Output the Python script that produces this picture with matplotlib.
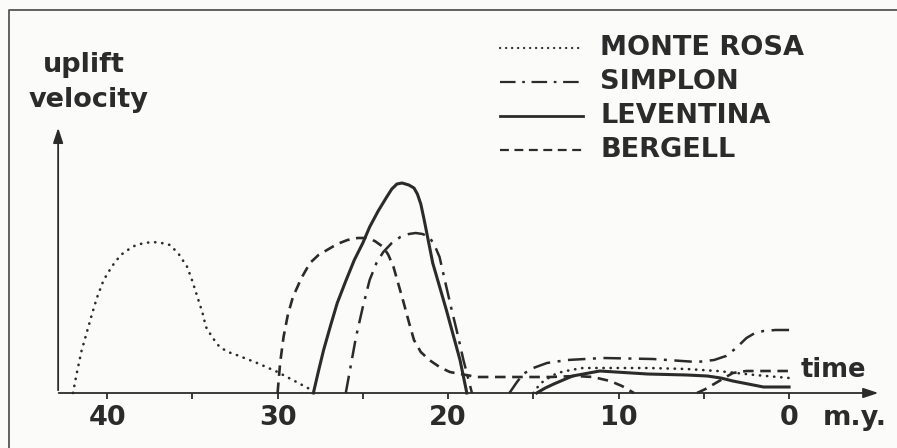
import matplotlib.pyplot as plt

# Uplift velocity curves (time in m.y., height in arbitrary units)
monte_rosa_t = [42.0, 41.8, 41.5, 41.2, 40.9, 40.6, 40.2, 39.7, 39.2, 38.7, 38.3, 37.8, 37.3, 36.8, 36.3, 35.8, 35.3, 35.0, 34.7, 34.4, 34.2, 33.8, 33.4, 32.9, 32.4, 31.2, 30.0, 29.0, 27.9]
monte_rosa_h = [0, 18, 42, 60, 78, 95, 113, 127, 138, 144, 148, 150, 151, 150, 148, 139, 126, 112, 96, 80, 66, 55, 46, 41, 38, 30, 21, 12, 2]
monte_rosa2_t = [15.0, 14.7, 14.4, 13.6, 12.8, 12.1, 10.0, 8.2, 6.0, 4.2, 2.0, 0.0]
monte_rosa2_h = [0, 7, 12, 20, 23, 25, 25, 25, 24, 22, 18, 15]

simplon_t = [26.0, 25.7, 25.4, 25.0, 24.6, 24.2, 23.8, 23.3, 22.8, 22.3, 21.9, 21.5, 21.1, 20.8, 20.5, 20.1, 19.8, 19.5, 19.1, 18.6]
simplon_h = [0, 28, 56, 86, 113, 130, 141, 150, 156, 159, 160, 159, 156, 148, 136, 106, 84, 63, 33, 0]
simplon2_t = [16.4, 16.0, 15.6, 15.0, 14.2, 13.0, 10.9, 8.0, 5.4, 4.4, 3.7, 3.1, 2.5, 2.0, 1.5, 0.8, 0.0]
simplon2_h = [0, 10, 19, 25, 30, 33, 35, 34, 31, 33, 37, 45, 55, 60, 62, 63, 63]

leventina_t = [27.9, 27.6, 27.3, 26.9, 26.5, 26.0, 25.5, 25.0, 24.6, 24.1, 23.6, 23.3, 23.0, 22.7, 22.3, 22.0, 21.8, 21.6, 21.4, 20.9, 20.1, 19.3, 18.9]
leventina_h = [0, 22, 43, 67, 90, 112, 133, 150, 166, 182, 196, 204, 209, 210, 208, 205, 199, 189, 173, 130, 83, 33, 0]
leventina2_t = [14.8, 14.3, 13.8, 12.7, 11.1, 8.3, 6.0, 4.8, 4.0, 3.3, 2.4, 1.5, 0.0]
leventina2_h = [0, 5, 9, 17, 22, 19, 18, 17, 15, 12, 9, 6, 6]

bergell_t = [30.0, 29.85, 29.65, 29.4, 29.1, 28.6, 28.1, 27.6, 27.1, 26.5, 25.9, 25.3, 24.8, 24.3, 23.8, 23.5, 23.2, 22.9, 22.6, 22.3, 22.0, 21.6, 21.1, 20.5, 19.9, 18.3, 16.0, 14.0, 12.5, 11.5, 10.5, 9.8, 9.1]
bergell_h = [0, 30, 56, 78, 96, 115, 130, 138, 143, 149, 153, 155, 155, 152, 146, 138, 126, 108, 90, 71, 53, 41, 33, 26, 21, 16, 16, 16, 17, 16, 12, 7, 0]
bergell2_t = [5.4, 4.9, 4.4, 3.8, 3.3, 2.5, 1.0, 0.0]
bergell2_h = [0, 4, 9, 15, 20, 22, 22, 22]

tick_pos = [40, 35, 30, 25, 20, 15, 10, 5, 0]
tick_labels = ["40", "30", "20", "10", "0"]
label_pos = [40, 30, 20, 10, 0]
legend_names = ["MONTE ROSA", "SIMPLON", "LEVENTINA", "BERGELL"]

INK = "#2b2b2b"
FONT = dict(family="DejaVu Sans", weight="bold", color=INK)

dotted = (0, (0.1, 2.6))
dashdot = (0, (7, 3, 1.2, 3))
dashed = (0, (4, 2.5))

fig = plt.figure(figsize=(8.97, 4.48), dpi=100, facecolor="#fbfbf9")
ax = fig.add_axes([0, 0, 1, 1])
ax.set_facecolor("#fbfbf9")
ax.set_xlim(46.28, -6.33)
ax.set_ylim(-55, 393)
ax.axis("off")

# frame (left and top edges visible in the scan)
ax.plot([45.75, 45.75, -6.4], [-56, 383, 383], color="#555555", lw=1.3, solid_capstyle="butt")

# axes with arrow heads
ax.annotate("", xy=(-5.4, 0), xytext=(43.0, 0),
            arrowprops=dict(arrowstyle="-|>,head_length=0.9,head_width=0.3", color=INK, lw=1.3))
ax.annotate("", xy=(42.87, 268), xytext=(42.87, 0),
            arrowprops=dict(arrowstyle="-|>,head_length=0.9,head_width=0.3", color=INK, lw=1.3))
ax.vlines(tick_pos, -6, 0, color=INK, lw=1.3)
for t, lab in zip(label_pos, tick_labels):
    ax.text(t, -25, lab, ha="center", va="center", fontsize=19.5, **FONT)
ax.text(-2.0, -25, "m.y.", ha="left", va="center", fontsize=19.5, **FONT)
ax.text(-0.65, 23, "time", ha="left", va="center", fontsize=18.5, **FONT)
ax.text(41.35, 328, "uplift", ha="center", va="center", fontsize=19.5, **FONT)
ax.text(41.1, 293, "velocity", ha="center", va="center", fontsize=19.5, **FONT)

# curves
ax.plot(monte_rosa_t, monte_rosa_h, color=INK, lw=1.9, linestyle=dotted, dash_capstyle="round")
ax.plot(monte_rosa2_t, monte_rosa2_h, color=INK, lw=1.9, linestyle=dotted, dash_capstyle="round")
ax.plot(simplon_t, simplon_h, color=INK, lw=1.8, linestyle=dashdot)
ax.plot(simplon2_t, simplon2_h, color=INK, lw=1.8, linestyle=dashdot)
ax.plot(leventina_t, leventina_h, color=INK, lw=2.2)
ax.plot(leventina2_t, leventina2_h, color=INK, lw=2.2)
ax.plot(bergell_t, bergell_h, color=INK, lw=1.9, linestyle=dashed)
ax.plot(bergell2_t, bergell2_h, color=INK, lw=1.9, linestyle=dashed)

# legend drawn by hand
styles = [(dotted, 1.6), (dashdot, 1.6), ("-", 2.0), (dashed, 1.6)]
rows = [345, 311, 277, 243]
for name, (ls, lw), h in zip(legend_names, styles, rows):
    ax.plot([16.95, 12.08], [h, h], color=INK, lw=lw, linestyle=ls, dash_capstyle="round" if ls is dotted else "butt")
    ax.text(11.08, h, name, ha="left", va="center", fontsize=19.5, **FONT)

fig.savefig("out.png", dpi=100, facecolor=fig.get_facecolor())
